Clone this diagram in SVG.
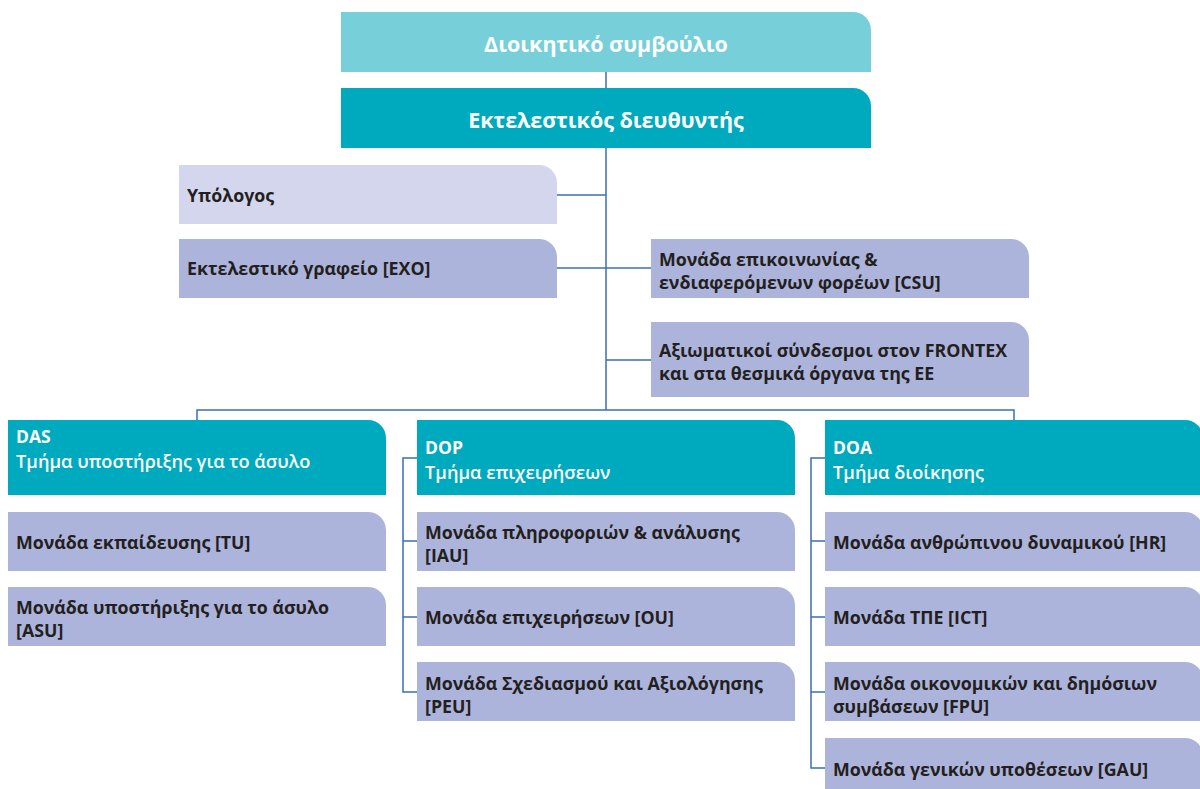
<svg xmlns="http://www.w3.org/2000/svg" width="1200" height="789" viewBox="0 0 1200 789">
<style>
.board{fill:#77cfd9}
.teal{fill:#00aabe}
.light{fill:#d4d6ee}
.unit{fill:#adb4db}
.conn{fill:none;stroke:#3a6fb7;stroke-width:1.5}
text{font-family:"Open Sans","Noto Sans",sans-serif;font-weight:700}
.wt{fill:#ffffff}
.top{font-size:21.5px;text-anchor:middle}
.hd{font-size:17.5px}
.hd2{font-size:18.2px;font-weight:600}
.dk{fill:#231f20;font-size:17.8px}
</style>
<rect width="1200" height="789" fill="#ffffff"/>
<g id="connectors">
<path class="conn" d="M606,72 V88"/>
<path class="conn" d="M606,148 V410"/>
<path class="conn" d="M557,195 H606"/>
<path class="conn" d="M557,268 H651"/>
<path class="conn" d="M606,360 H651"/>
<path class="conn" d="M197,420 V410 H1014 V420"/>
<path class="conn" d="M417,458 H403 V692 H417 M403,541 H417 M403,617 H417"/>
<path class="conn" d="M825,458 H811 V768 H825 M811,541 H825 M811,617 H825 M811,692 H825"/>
</g>
<g id="board">
<path class="board" d="M341,12 H853 A18,18 0 0 1 871,30 V72 H341 Z"/>
<text class="wt top" x="606" y="52">Διοικητικό συμβούλιο</text>
</g>
<g id="director">
<path class="teal" d="M341,88 H853 A18,18 0 0 1 871,106 V148 H341 Z"/>
<text class="wt top" x="606" y="128">Εκτελεστικός διευθυντής</text>
</g>
<g id="accounting">
<path class="light" d="M179,165 H539 A18,18 0 0 1 557,183 V224 H179 Z"/>
<text class="dk" x="187" y="202">Υπόλογος</text>
</g>
<g id="exo">
<path class="unit" d="M179,239 H539 A18,18 0 0 1 557,257 V298 H179 Z"/>
<text class="dk" x="187" y="275">Εκτελεστικό γραφείο [EXO]</text>
</g>
<g id="csu">
<path class="unit" d="M651,239 H1011 A18,18 0 0 1 1029,257 V298 H651 Z"/>
<text class="dk" x="659" y="266">Μονάδα επικοινωνίας &amp;</text>
<text class="dk" x="659" y="289">ενδιαφερόμενων φορέων [CSU]</text>
</g>
<g id="liaison">
<path class="unit" d="M651,322 H1011 A18,18 0 0 1 1029,340 V397 H651 Z"/>
<text class="dk" x="659" y="357">Αξιωματικοί σύνδεσμοι στον FRONTEX</text>
<text class="dk" x="659" y="380">και στα θεσμικά όργανα της ΕΕ</text>
</g>
<g id="das">
<path class="teal" d="M8,420 H368 A18,18 0 0 1 386,438 V495 H8 Z"/>
<text class="wt hd" x="16" y="443">DAS</text>
<text class="wt hd2" x="16" y="468">Τμήμα υποστήριξης για το άσυλο</text>
</g>
<g id="tu">
<path class="unit" d="M8,512 H368 A18,18 0 0 1 386,530 V571 H8 Z"/>
<text class="dk" x="16" y="549">Μονάδα εκπαίδευσης [TU]</text>
</g>
<g id="asu">
<path class="unit" d="M8,587 H368 A18,18 0 0 1 386,605 V646 H8 Z"/>
<text class="dk" x="16" y="614">Μονάδα υποστήριξης για το άσυλο</text>
<text class="dk" x="16" y="637">[ASU]</text>
</g>
<g id="dop">
<path class="teal" d="M417,420 H777 A18,18 0 0 1 795,438 V495 H417 Z"/>
<text class="wt hd" x="425" y="454">DOP</text>
<text class="wt hd2" x="425" y="479">Τμήμα επιχειρήσεων</text>
</g>
<g id="iau">
<path class="unit" d="M417,512 H777 A18,18 0 0 1 795,530 V571 H417 Z"/>
<text class="dk" x="425" y="539">Μονάδα πληροφοριών &amp; ανάλυσης</text>
<text class="dk" x="425" y="562">[IAU]</text>
</g>
<g id="ou">
<path class="unit" d="M417,587 H777 A18,18 0 0 1 795,605 V646 H417 Z"/>
<text class="dk" x="425" y="624">Μονάδα επιχειρήσεων [OU]</text>
</g>
<g id="peu">
<path class="unit" d="M417,662 H777 A18,18 0 0 1 795,680 V721 H417 Z"/>
<text class="dk" x="425" y="690">Μονάδα Σχεδιασμού και Αξιολόγησης</text>
<text class="dk" x="425" y="713">[PEU]</text>
</g>
<g id="doa">
<path class="teal" d="M825,420 H1185 A18,18 0 0 1 1203,438 V495 H825 Z"/>
<text class="wt hd" x="833" y="454">DOA</text>
<text class="wt hd2" x="833" y="479">Τμήμα διοίκησης</text>
</g>
<g id="hr">
<path class="unit" d="M825,512 H1185 A18,18 0 0 1 1203,530 V571 H825 Z"/>
<text class="dk" x="833" y="549">Μονάδα ανθρώπινου δυναμικού [HR]</text>
</g>
<g id="ict">
<path class="unit" d="M825,587 H1185 A18,18 0 0 1 1203,605 V646 H825 Z"/>
<text class="dk" x="833" y="624">Μονάδα ΤΠΕ [ICT]</text>
</g>
<g id="fpu">
<path class="unit" d="M825,662 H1185 A18,18 0 0 1 1203,680 V721 H825 Z"/>
<text class="dk" x="833" y="690">Μονάδα οικονομικών και δημόσιων</text>
<text class="dk" x="833" y="713">συμβάσεων [FPU]</text>
</g>
<g id="gau">
<path class="unit" d="M825,738 H1185 A18,18 0 0 1 1203,756 V797 H825 Z"/>
<text class="dk" x="833" y="776">Μονάδα γενικών υποθέσεων [GAU]</text>
</g>
</svg>
